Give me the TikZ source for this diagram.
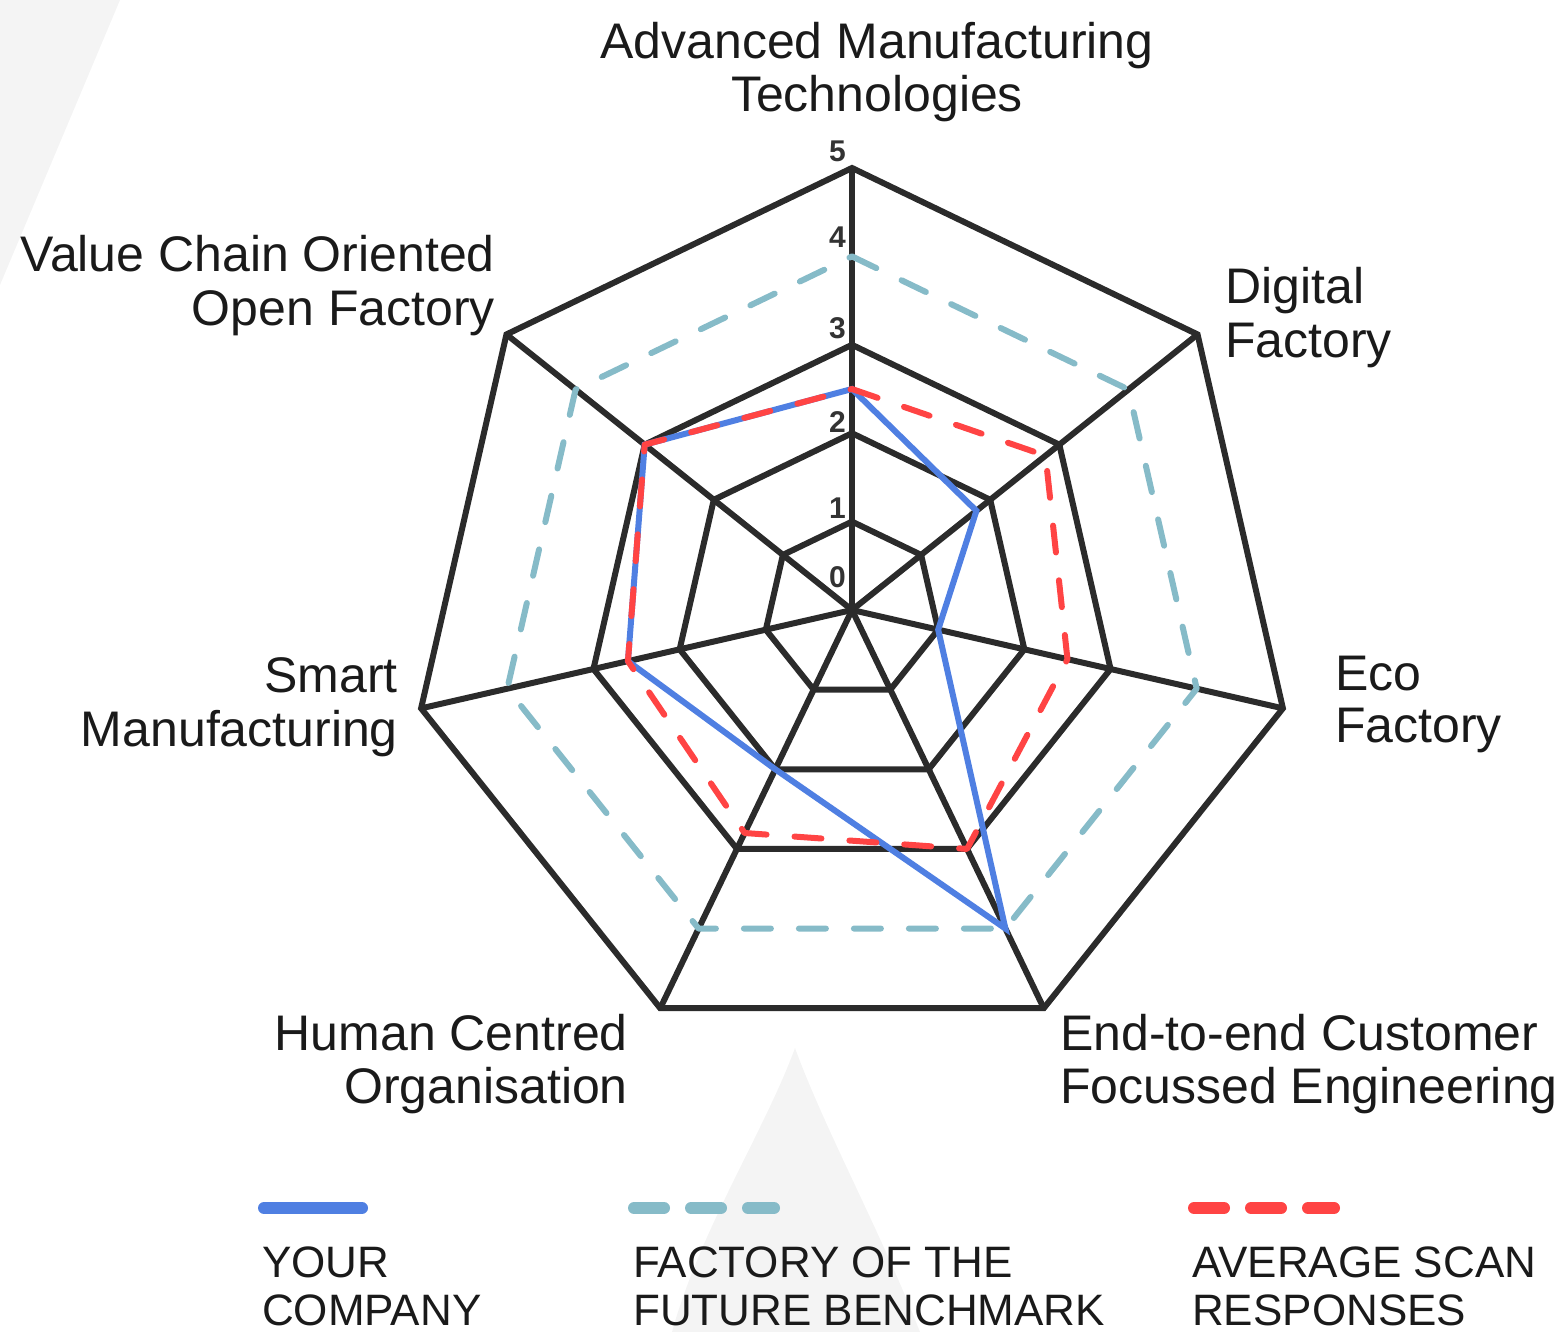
\documentclass[tikz,border=0pt]{standalone}
\usepackage{fontspec}
\setmainfont{Liberation Sans}
\definecolor{gridC}{HTML}{2B2B2B}
\definecolor{blueC}{HTML}{4F7FE2}
\definecolor{benchC}{HTML}{86BBC8}
\definecolor{redC}{HTML}{FF4444}
\definecolor{bgC}{HTML}{F4F4F4}
\definecolor{labC}{HTML}{1A1A1A}
\definecolor{numC}{HTML}{333333}
\begin{document}
\begin{tikzpicture}[x=1pt,y=-1pt,
  gridline/.style={draw=gridC, line width=6pt, line join=miter, miter limit=10},
  benchline/.style={draw=benchC, line width=6pt, line cap=round, line join=round, dash pattern=on 27pt off 28pt},
  ourline/.style={draw=blueC, line width=6pt, line join=miter, miter limit=10},
  avgline/.style={draw=redC, line width=6pt, line cap=round, line join=round, dash pattern=on 27pt off 28pt},
  axislab/.style={inner sep=0pt, text=labC, font=\fontsize{50}{52}\selectfont},
  numlab/.style={inner sep=0pt, text=numC, anchor=base east, font=\fontsize{30}{32}\selectfont\bfseries},
  leglab/.style={inner sep=0pt, text=labC, anchor=base west, font=\fontsize{44}{48}\selectfont},
]
\useasboundingbox (0,0) rectangle (1558,1332);
% faint background shapes
\fill[bgC] (0,0) -- (120,0) -- (0,285) -- cycle;
\fill[bgC] (795,1048) .. controls (765,1130) and (700,1230) .. (672,1332) -- (920,1332) .. controls (880,1230) and (825,1130) .. (795,1048) -- cycle;

\coordinate (c) at (852,610);
% grid rings
\foreach \L in {1,2,3,5}{
  \foreach \i in {0,...,6}{
    \path (c) ++({-90+\i*360/7}:{\L*88.4}) coordinate (g\L-\i);
  }
  \draw[gridline] (g\L-0) -- (g\L-1) -- (g\L-2) -- (g\L-3) -- (g\L-4) -- (g\L-5) -- (g\L-6) -- cycle;
}
% spokes
\foreach \i in {0,...,6}{
  \draw[gridline] (c) -- (g5-\i);
}
% benchmark (all 4)
\foreach \i in {0,...,6}{
  \path (c) ++({-90+\i*360/7}:{4*88.4}) coordinate (f\i);
}
\draw[benchline] (f0) -- (f1) -- (f2) -- (f3) -- (f4) -- (f5) -- (f6) -- cycle;
% your company
\foreach \v [count=\i from 0] in {2.5,1.8,1.0,4.0,2.0,2.6,3.0}{
  \path (c) ++({-90+\i*360/7}:{\v*88.4}) coordinate (y\i);
}
\draw[ourline] (y0) -- (y1) -- (y2) -- (y3) -- (y4) -- (y5) -- (y6) -- cycle;
% average
\foreach \v [count=\i from 0] in {2.5,2.8,2.5,3.0,2.8,2.6,3.0}{
  \path (c) ++({-90+\i*360/7}:{\v*88.4}) coordinate (a\i);
}
\draw[avgline] (a0) -- (a1) -- (a2) -- (a3) -- (a4) -- (a5) -- (a6) -- cycle;

% scale numbers
\node[numlab] (n5) at (846,162) {5};
\node[numlab] (n4) at (846,248) {4};
\node[numlab] (n3) at (846,338) {3};
\node[numlab] (n2) at (846,432) {2};
\node[numlab] (n1) at (846,518) {1};
\node[numlab] (n0) at (846,587) {0};

% axis labels
\node[axislab, anchor=base] (amt1) at (877,59) {Advanced Manufacturing};
\node[axislab, anchor=base] (amt2) at (877,112) {Technologies};
\node[axislab, anchor=base west] (df1) at (1225,304) {Digital};
\node[axislab, anchor=base west] (df2) at (1225,357) {Factory};
\node[axislab, anchor=base west] (ef1) at (1335,690) {Eco};
\node[axislab, anchor=base west] (ef2) at (1335,742) {Factory};
\node[axislab, anchor=base west] (ee1) at (1060,1050) {End-to-end Customer};
\node[axislab, anchor=base west] (ee2) at (1060,1103) {Focussed Engineering};
\node[axislab, anchor=base east] (hc1) at (628,1050) {Human Centred};
\node[axislab, anchor=base east] (hc2) at (628,1103) {Organisation};
\node[axislab, anchor=base east] (sm1) at (398,692) {Smart};
\node[axislab, anchor=base east] (sm2) at (398,746) {Manufacturing};
\node[axislab, anchor=base east] (vc1) at (495,272) {Value Chain Oriented};
\node[axislab, anchor=base east] (vc2) at (495,325) {Open Factory};

% legend
\coordinate (lb1) at (264,1208); \coordinate (lb2) at (362,1208);
\draw[draw=blueC, line width=12pt, line cap=round] (lb1) -- (lb2);
\coordinate (lf1) at (634,1208); \coordinate (lf2) at (774,1208);
\draw[draw=benchC, line width=12pt, line cap=round, dash pattern=on 30pt off 27pt] (lf1) -- (lf2);
\coordinate (la1) at (1194,1208); \coordinate (la2) at (1334,1208);
\draw[draw=redC, line width=12pt, line cap=round, dash pattern=on 30pt off 27pt] (la1) -- (la2);

\node[leglab] (ly1) at (262,1277) {YOUR};
\node[leglab] (ly2) at (262,1325) {COMPANY};
\node[leglab] (lf1t) at (633,1277) {FACTORY OF THE};
\node[leglab] (lf2t) at (633,1325) {FUTURE BENCHMARK};
\node[leglab] (la1t) at (1192,1277) {AVERAGE SCAN};
\node[leglab] (la2t) at (1192,1325) {RESPONSES};
\end{tikzpicture}
\end{document}
